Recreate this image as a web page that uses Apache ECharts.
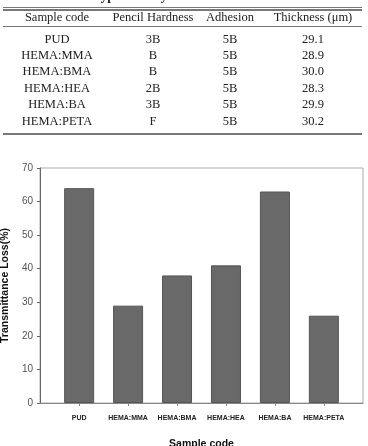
<!DOCTYPE html>
<html>
<head>
    <meta charset="utf-8">
    <script src="https://cdn.jsdelivr.net/npm/echarts@6/dist/echarts.min.js"></script>
    <style>
        body { margin: 0; background: #fff; }
        #wrap { position: relative; width: 368px; height: 446px; overflow: hidden; }
        #main { position: absolute; left: 0; top: 0; width: 368px; height: 446px; }
        #tbl { position: absolute; left: 0; top: 0; width: 368px; height: 140px;
               font-family: "Liberation Serif", "Times New Roman", serif; font-size: 12.5px; color: #222; }
        .cell { position: absolute; transform: translate(-50%, -50%); white-space: nowrap; }
        .rule { position: absolute; left: 3px; width: 359px; background: #777; }
    </style>
</head>
<body>
<div id="wrap">
    <div id="main"></div>
    <div id="tbl"></div>
</div>
<script type="text/javascript">
    // 表格数据
    var tableHeader = ['Sample code', 'Pencil Hardness', 'Adhesion', 'Thickness (\u03bcm)'];
    var samples = ['PUD', 'HEMA:MMA', 'HEMA:BMA', 'HEMA:HEA', 'HEMA:BA', 'HEMA:PETA'];
    var hardness = ['3B', 'B', 'B', '2B', '3B', 'F'];
    var adhesion = ['5B', '5B', '5B', '5B', '5B', '5B'];
    var thickness = ['29.1', '28.9', '30.0', '28.3', '29.9', '30.2'];

    // 柱状图数据
    var transLoss = [64, 29, 38, 41, 63, 26];

    // build the table
    var tbl = document.getElementById('tbl');
    var colX = [57, 153, 230, 313];
    var rowY = [38.5, 54.8, 71.1, 87.5, 104, 120.8];

    var cap = document.createElement('div');
    cap.textContent = 'different types of acrylic monomers';
    cap.style.cssText = 'position:absolute;left:45px;top:-11px;font-weight:bold;font-size:13px;line-height:13px;';
    tbl.appendChild(cap);

    function addRule(y, h) {
        var d = document.createElement('div');
        d.className = 'rule';
        d.style.top = y + 'px';
        d.style.height = h + 'px';
        tbl.appendChild(d);
    }
    addRule(7, 1);
    addRule(9, 1.5);
    addRule(25.5, 1);
    addRule(133, 1.5);

    function addCell(txt, x, y) {
        var d = document.createElement('div');
        d.className = 'cell';
        d.textContent = txt;
        d.style.left = x + 'px';
        d.style.top = y + 'px';
        tbl.appendChild(d);
    }
    for (var c = 0; c < tableHeader.length; c++) addCell(tableHeader[c], colX[c], 16.5);
    for (var r = 0; r < samples.length; r++) {
        addCell(samples[r], colX[0], rowY[r]);
        addCell(hardness[r], colX[1], rowY[r]);
        addCell(adhesion[r], colX[2], rowY[r]);
        addCell(thickness[r], colX[3], rowY[r]);
    }

    // chart
    var myChart = echarts.init(document.getElementById('main'));
    var pad = 0.8;
    var barData = [];
    var tickPos = [];
    for (var i = 0; i < samples.length; i++) {
        barData.push([i + pad, transLoss[i]]);
        tickPos.push(i + pad);
    }

    var option = {
        animation: false,
        grid: {
            left: 40, right: 5, top: 168, bottom: 43,
            outerBoundsMode: 'none',
            containLabel: false,
            show: true, borderColor: '#aaa', borderWidth: 1
        },
        xAxis: {
            type: 'value',
            min: 0,
            max: samples.length - 1 + 2 * pad,
            name: 'Sample code',
            nameLocation: 'middle',
            nameGap: 36,
            nameTextStyle: { fontFamily: 'Liberation Sans', fontWeight: 'bold', fontSize: 10.5, color: '#111' },
            splitLine: { show: false },
            axisLine: { show: true, lineStyle: { color: '#888', width: 1 } },
            axisTick: { show: true, length: 3, customValues: tickPos, lineStyle: { color: '#888' } },
            axisLabel: {
                customValues: tickPos,
                margin: 12,
                fontFamily: 'Liberation Sans',
                fontWeight: 'bold',
                fontSize: 7,
                color: '#222',
                formatter: function (v) { return samples[Math.round(v - pad)]; }
            }
        },
        yAxis: {
            type: 'value',
            min: 0, max: 70, interval: 10,
            name: 'Transmittance Loss(%)',
            nameLocation: 'middle',
            nameGap: 22,
            nameTextStyle: { fontFamily: 'Liberation Sans', fontWeight: 'bold', fontSize: 10.5, color: '#111' },
            splitLine: { show: false },
            axisLine: { show: true, lineStyle: { color: '#666', width: 1 } },
            axisTick: { show: true, length: 3, lineStyle: { color: '#666' } },
            axisLabel: { margin: 7, fontFamily: 'Liberation Sans', fontSize: 10, color: '#555' }
        },
        series: [{
            type: 'bar',
            barWidth: 30,
            data: barData,
            itemStyle: { color: '#696969', borderColor: '#555', borderWidth: 1 }
        }]
    };
    myChart.setOption(option);
</script>
</body>
</html>
